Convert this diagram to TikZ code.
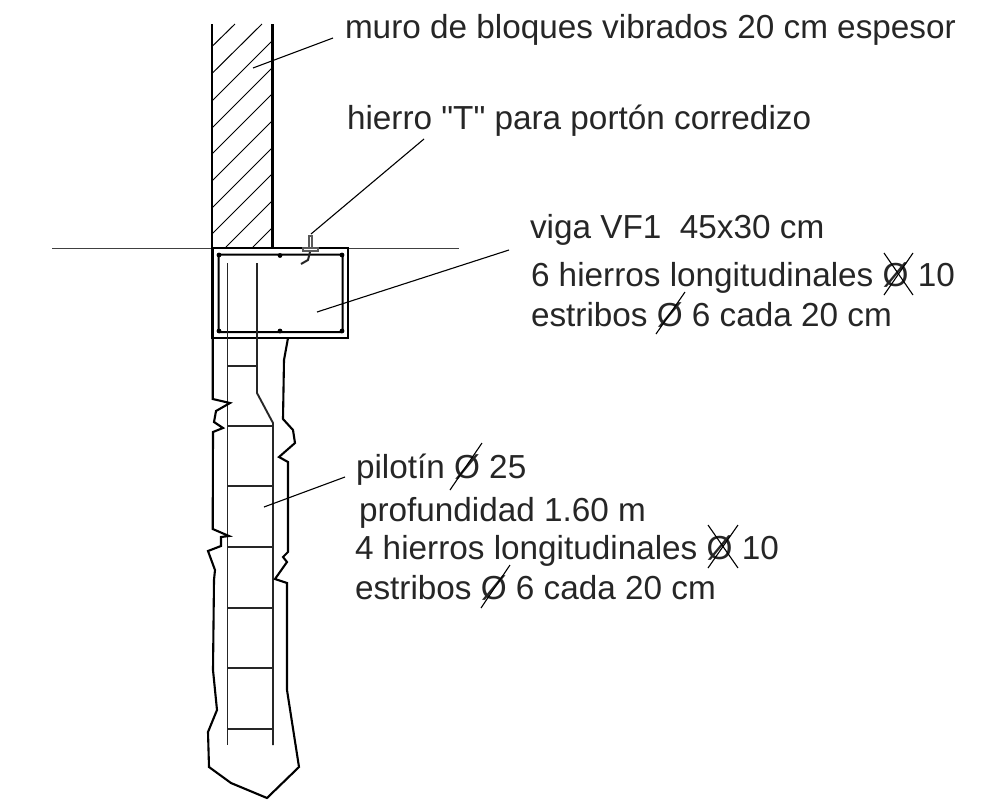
\documentclass[tikz,border=0pt]{standalone}
\usepackage{fontspec}
\setmainfont{Liberation Sans}[Ligatures=TeXOff]
\begin{document}
\begin{tikzpicture}[x=1pt,y=-1pt,line join=miter,
  label/.style={anchor=base west,inner sep=0pt,outer sep=0pt,text=black!85,font=\fontsize{33.3}{33.3}\selectfont},
  thick line/.style={draw=black,line width=2.6pt},
  bar/.style={draw=black!85,line width=1.9pt},
  thin line/.style={draw=black,line width=1.1pt},
  hatch/.style={draw=black,line width=1pt},
  strike/.style={draw=black,line width=1.1pt},
  ground/.style={draw=black,line width=2.1pt}]
\useasboundingbox (0,0) rectangle (986,801);
\fill[white] (0,0) rectangle (986,801);
% hatch of the wall
\foreach \a/\b in {235/46,262/73}
  \draw[hatch] (\a,24) -- (212.5,\b);
\foreach \y in {41,68,94,121,148,174}
  \draw[hatch] (272,\y) -- (212.5,{\y+59.5});
\draw[hatch] (272,201) -- (226,247);
\draw[hatch] (272,228) -- (253,247);
% ground line and wall
\draw[draw=black!75,line width=1pt] (52,248) -- (459,248);
\draw[thick line] (212,24) -- (212,248);
\draw[thick line] (272.5,24) -- (272.5,248);
% beam
\draw[thick line] (212.5,248) rectangle (348,338);
\draw[draw=black,line width=2pt,rounded corners=1pt] (218.5,254.5) rectangle (342.5,332);
\foreach \p in {(219,255),(342,255),(219,331),(342,331),(280,255.5),(280,331)}
  \fill[black] \p circle (2.4pt);
% T iron
\draw[draw=black!65,fill=white,line width=1.1pt] (309,236) rectangle (312,248);
\draw[draw=black!65,fill=white,line width=1.1pt] (303,248) rectangle (318,251);
\draw[draw=black!85,line width=2pt] (310,252) -- (308,260) -- (301,264);
% pile bars
\draw[bar] (227.5,263) -- (227.5,745);
\draw[bar] (257,263) -- (257,393) -- (273,423) -- (273,745);
\draw[bar] (227.5,366) -- (257,366);
\foreach \y in {426,486,547,608,668,729}
  \draw[bar] (227.5,\y) -- (273,\y);
% ground outline
\draw[ground] (212.7,338) -- (212.7,399) -- (230,403) -- (216,411) -- (214,422) -- (223,428) -- (213,432)
 -- (212.7,529) -- (229,536) -- (221,537) -- (221,546) -- (208,551) -- (215,570) -- (214,580)
 -- (213,670) -- (217,710) -- (208,732) -- (209,767) -- (231,783) -- (267,798) -- (299,767)
 -- (287,690) -- (287,583) -- (275,579) -- (287,562) -- (283,557) -- (288,552) -- (288,462)
 -- (279,457) -- (295,443) -- (293,430) -- (283,419) -- (284,360) -- (288,338);
% labels
\node[label] (muro) at (345,38.5) {muro de bloques vibrados 20 cm espesor};
\node[label] (hierro) at (347,129) {hierro "T" para portón corredizo};
\node[label] (viga) at (530,238.5) {viga VF1\ \ 45x30 cm};
\node[label] (vigab) at (531,286.5) {6 hierros longitudinales Ø 10};
\node[label] (vigac) at (531,326.5) {estribos Ø 6 cada 20 cm};
\node[label] (pil) at (356,478) {pilotín Ø 25};
\node[label] (pilb) at (359,521) {profundidad 1.60 m};
\node[label] (pilc) at (355,559) {4 hierros longitudinales Ø 10};
\node[label] (pild) at (355,599) {estribos Ø 6 cada 20 cm};
% leaders
\coordinate (mA) at (333,38);  \coordinate (mB) at (253,68);
\coordinate (hA) at (424,139); \coordinate (hB) at (311,234);
\coordinate (vA) at (509,250); \coordinate (vB) at (317,312);
\coordinate (pA) at (345,477); \coordinate (pB) at (264,507);
\draw[thin line] (mA) -- (mB);
\draw[thin line] (hA) -- (hB);
\draw[thin line] (vA) -- (vB);
\draw[thin line] (pA) -- (pB);
% strikes through diameter signs
\draw[strike] (884,253) -- (913,295);
\draw[strike] (913,253) -- (884,295);
\draw[strike] (685,292) -- (656,334);
\draw[strike] (482,443) -- (450,490);
\draw[strike] (708,525) -- (738,568);
\draw[strike] (738,525) -- (708,568);
\draw[strike] (510,565) -- (481,608);
\end{tikzpicture}
\end{document}
